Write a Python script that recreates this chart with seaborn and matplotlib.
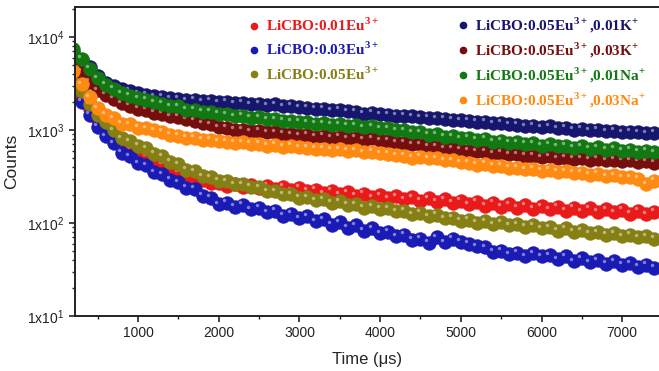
import numpy as np
import pandas as pd
import seaborn as sns
import matplotlib.pyplot as plt
import matplotlib.ticker as mticker
import matplotlib.transforms as mtransforms
from matplotlib.lines import Line2D

# time axis of the decay curves (us)
time_us = np.arange(200, 7401, 100)

# counts, one list per sample
eu001 = [3200, 2320, 1680, 1280, 1025, 840, 690, 620, 585, 520, 480, 425, 395, 350, 330, 308, 292, 272, 266,
         250, 262, 244, 256, 238, 250, 232, 246, 226, 238,
         222, 228, 210, 222, 204, 214, 196, 206, 190, 198,
         184, 194, 180, 190, 174, 184, 170, 180, 166, 174,
         160, 170, 154, 166, 150, 160, 146, 156, 142, 152,
         140, 150, 136, 146, 134, 144, 132, 140, 130, 138, 126, 136, 124, 132]
eu003 = [2830, 2000, 1450, 1080, 860, 720, 570, 525, 440, 420, 350, 335, 290, 275, 238, 232, 196, 186, 160,
         166, 150, 158, 140, 146, 130, 136, 120, 126, 112,
         118, 104, 110, 96, 102, 89, 95, 83, 88, 78,
         81, 72, 75, 66, 68, 61, 70, 62, 68, 63,
         60, 56, 55, 49, 50, 46, 48, 44, 47, 44,
         45, 41, 44, 39, 42, 38, 40, 36.5, 39, 35.5, 37, 34, 35.5, 33]
eu005 = [3620, 2630, 1900, 1450, 1220, 990, 810, 760, 680, 640, 555, 525, 455, 430, 375, 360, 320, 312, 285,
         282, 262, 262, 244, 242, 220, 220, 203, 204, 186,
         190, 176, 181, 166, 172, 158, 160, 146, 152, 142,
         144, 133, 135, 124, 129, 118, 123, 112, 114, 106,
         108, 101, 105, 97, 102, 94, 97, 91, 95, 88,
         90, 83, 88, 81, 84, 78, 80, 75, 78, 72, 75, 70, 72, 68]
k001 = [6900, 5660, 4760, 3810, 3200, 2970, 2760, 2650, 2480, 2400, 2300, 2280, 2190, 2170, 2080, 2120, 2030, 2070, 1990,
        2020, 1940, 1970, 1880, 1920, 1840, 1880, 1790, 1830, 1760,
        1740, 1700, 1690, 1620, 1650, 1590, 1570, 1500, 1540, 1480,
        1460, 1430, 1420, 1400, 1370, 1360, 1330, 1320, 1290, 1280,
        1260, 1230, 1230, 1180, 1200, 1150, 1140, 1090, 1110, 1070,
        1090, 1050, 1060, 1010, 1030, 990, 1010, 970, 980, 950, 960, 940, 925, 935]
k003 = [5390, 4210, 3280, 2690, 2380, 2170, 1950, 1830, 1700, 1660, 1540, 1500, 1400, 1390, 1300, 1260, 1180, 1150, 1070,
        1060, 1010, 1010, 970, 980, 940, 940, 910, 900, 880,
        890, 850, 870, 830, 850, 810, 830, 790, 810, 780,
        770, 740, 730, 700, 700, 665, 665, 630, 635, 610,
        600, 590, 580, 560, 570, 545, 545, 530, 530, 510,
        520, 495, 505, 490, 495, 480, 490, 470, 480, 465, 470, 455, 460, 445]
na001 = [7430, 5800, 4530, 3620, 3050, 2780, 2480, 2340, 2190, 2120, 1980, 1920, 1790, 1790, 1660, 1660, 1580, 1580, 1490,
         1470, 1400, 1430, 1360, 1370, 1300, 1300, 1260, 1240, 1220,
         1210, 1170, 1180, 1140, 1150, 1110, 1120, 1070, 1090, 1040,
         1040, 990, 990, 940, 950, 890, 900, 850, 860, 810,
         820, 790, 800, 750, 770, 730, 740, 710, 720, 680,
         700, 665, 680, 645, 665, 630, 650, 615, 635, 600, 615, 585, 600, 575]
na003 = [4310, 3120, 2260, 1720, 1450, 1330, 1170, 1150, 1060, 1040, 990, 960, 890, 870, 830, 830, 790, 790, 760,
         750, 730, 735, 710, 715, 680, 695, 660, 680, 650,
         645, 630, 630, 610, 620, 595, 605, 575, 585, 560,
         555, 535, 530, 505, 515, 495, 495, 470, 470, 450,
         445, 425, 435, 410, 415, 395, 395, 380, 385, 365,
         375, 355, 358, 345, 348, 330, 338, 320, 325, 310, 312, 300, 262, 285]

labels = [r"LiCBO:0.01Eu$^{\mathbf{3+}}$", r"LiCBO:0.03Eu$^{\mathbf{3+}}$", r"LiCBO:0.05Eu$^{\mathbf{3+}}$",
          r"LiCBO:0.05Eu$^{\mathbf{3+}}$,0.01K$^{\mathbf{+}}$", r"LiCBO:0.05Eu$^{\mathbf{3+}}$,0.03K$^{\mathbf{+}}$",
          r"LiCBO:0.05Eu$^{\mathbf{3+}}$,0.01Na$^{\mathbf{+}}$", r"LiCBO:0.05Eu$^{\mathbf{3+}}$,0.03Na$^{\mathbf{+}}$"]
colors = ["#ea1a1a", "#1a1ab4", "#857f14", "#16166e", "#760e0e", "#127812", "#ff8a12"]
series = [eu001, eu003, eu005, k001, k003, na001, na003]

sns.set_style("ticks")
plt.rcParams['font.family'] = ['Liberation Sans', 'DejaVu Sans']
plt.rcParams['mathtext.fontset'] = 'custom'
plt.rcParams['mathtext.sf'] = 'Liberation Sans'
plt.rcParams['mathtext.rm'] = 'Liberation Sans'
plt.rcParams['mathtext.bf'] = 'Liberation Serif:bold'

fig = plt.figure(figsize=(6.59, 3.71), dpi=100)
ax = fig.add_axes([75 / 659, 55 / 371, 584 / 659, 309 / 371])

for vals, col in zip(series, colors):
    df = pd.DataFrame({"t": time_us, "c": vals})
    sns.scatterplot(data=df, x="t", y="c", ax=ax, color=col, s=100,
                    edgecolor=col, linewidth=0.3, legend=False, zorder=2)
    # little white glint to get the sphere look
    glint = mtransforms.offset_copy(ax.transData, fig=fig, x=-1.8, y=1.8, units='points')
    ax.scatter(df["t"], df["c"], s=6, color="white", alpha=0.45, lw=0,
               transform=glint, zorder=2)

ax.set_yscale("log")
ax.set_xlim(219, 7456)
ax.set_ylim(10, 21000)
ax.xaxis.set_major_locator(mticker.MultipleLocator(1000))
ax.xaxis.set_minor_locator(mticker.MultipleLocator(500))
ax.yaxis.set_major_locator(mticker.LogLocator(base=10))
ax.yaxis.set_minor_locator(mticker.LogLocator(base=10, subs=np.arange(2, 10)))
ax.yaxis.set_minor_formatter(mticker.NullFormatter())
ax.yaxis.set_major_formatter(mticker.FuncFormatter(
    lambda v, p: r"1x10$^{\mathsf{%d}}$" % round(np.log10(v))))
ax.set_xticks([1000, 2000, 3000, 4000, 5000, 6000, 7000])

ax.tick_params(which="major", direction="out", length=4, width=1.2, labelsize=10, colors="#222222")
ax.tick_params(which="minor", direction="out", length=2.5, width=1.0, colors="#222222")
for side in ["left", "bottom", "top"]:
    ax.spines[side].set_linewidth(1.4)
    ax.spines[side].set_color("#222222")
ax.spines["right"].set_visible(False)

ax.set_xlabel("Time (\u03bcs)", fontsize=12, labelpad=8)
ax.set_ylabel("Counts", fontsize=12.5, labelpad=6)

handles = [Line2D([], [], marker="o", ls="", color=c, markersize=4.5) for c in colors]
legend_font = {"family": "Liberation Serif", "weight": "bold", "size": 11}
leg1 = ax.legend(handles[:3], labels[:3], loc="upper left", bbox_to_anchor=(249 / 659, 1 - 17 / 371),
                 bbox_transform=fig.transFigure, frameon=False, prop=legend_font,
                 labelcolor=colors[:3], handlelength=0.6, handletextpad=0.5, labelspacing=0.45,
                 borderpad=0, borderaxespad=0)
ax.add_artist(leg1)
ax.legend(handles[3:], labels[3:], loc="upper left", bbox_to_anchor=(458 / 659, 1 - 16 / 371),
          bbox_transform=fig.transFigure, frameon=False, prop=legend_font,
          labelcolor=colors[3:], handlelength=0.6, handletextpad=0.5, labelspacing=0.36,
          borderpad=0, borderaxespad=0)

fig.savefig("out.png", dpi=100)
